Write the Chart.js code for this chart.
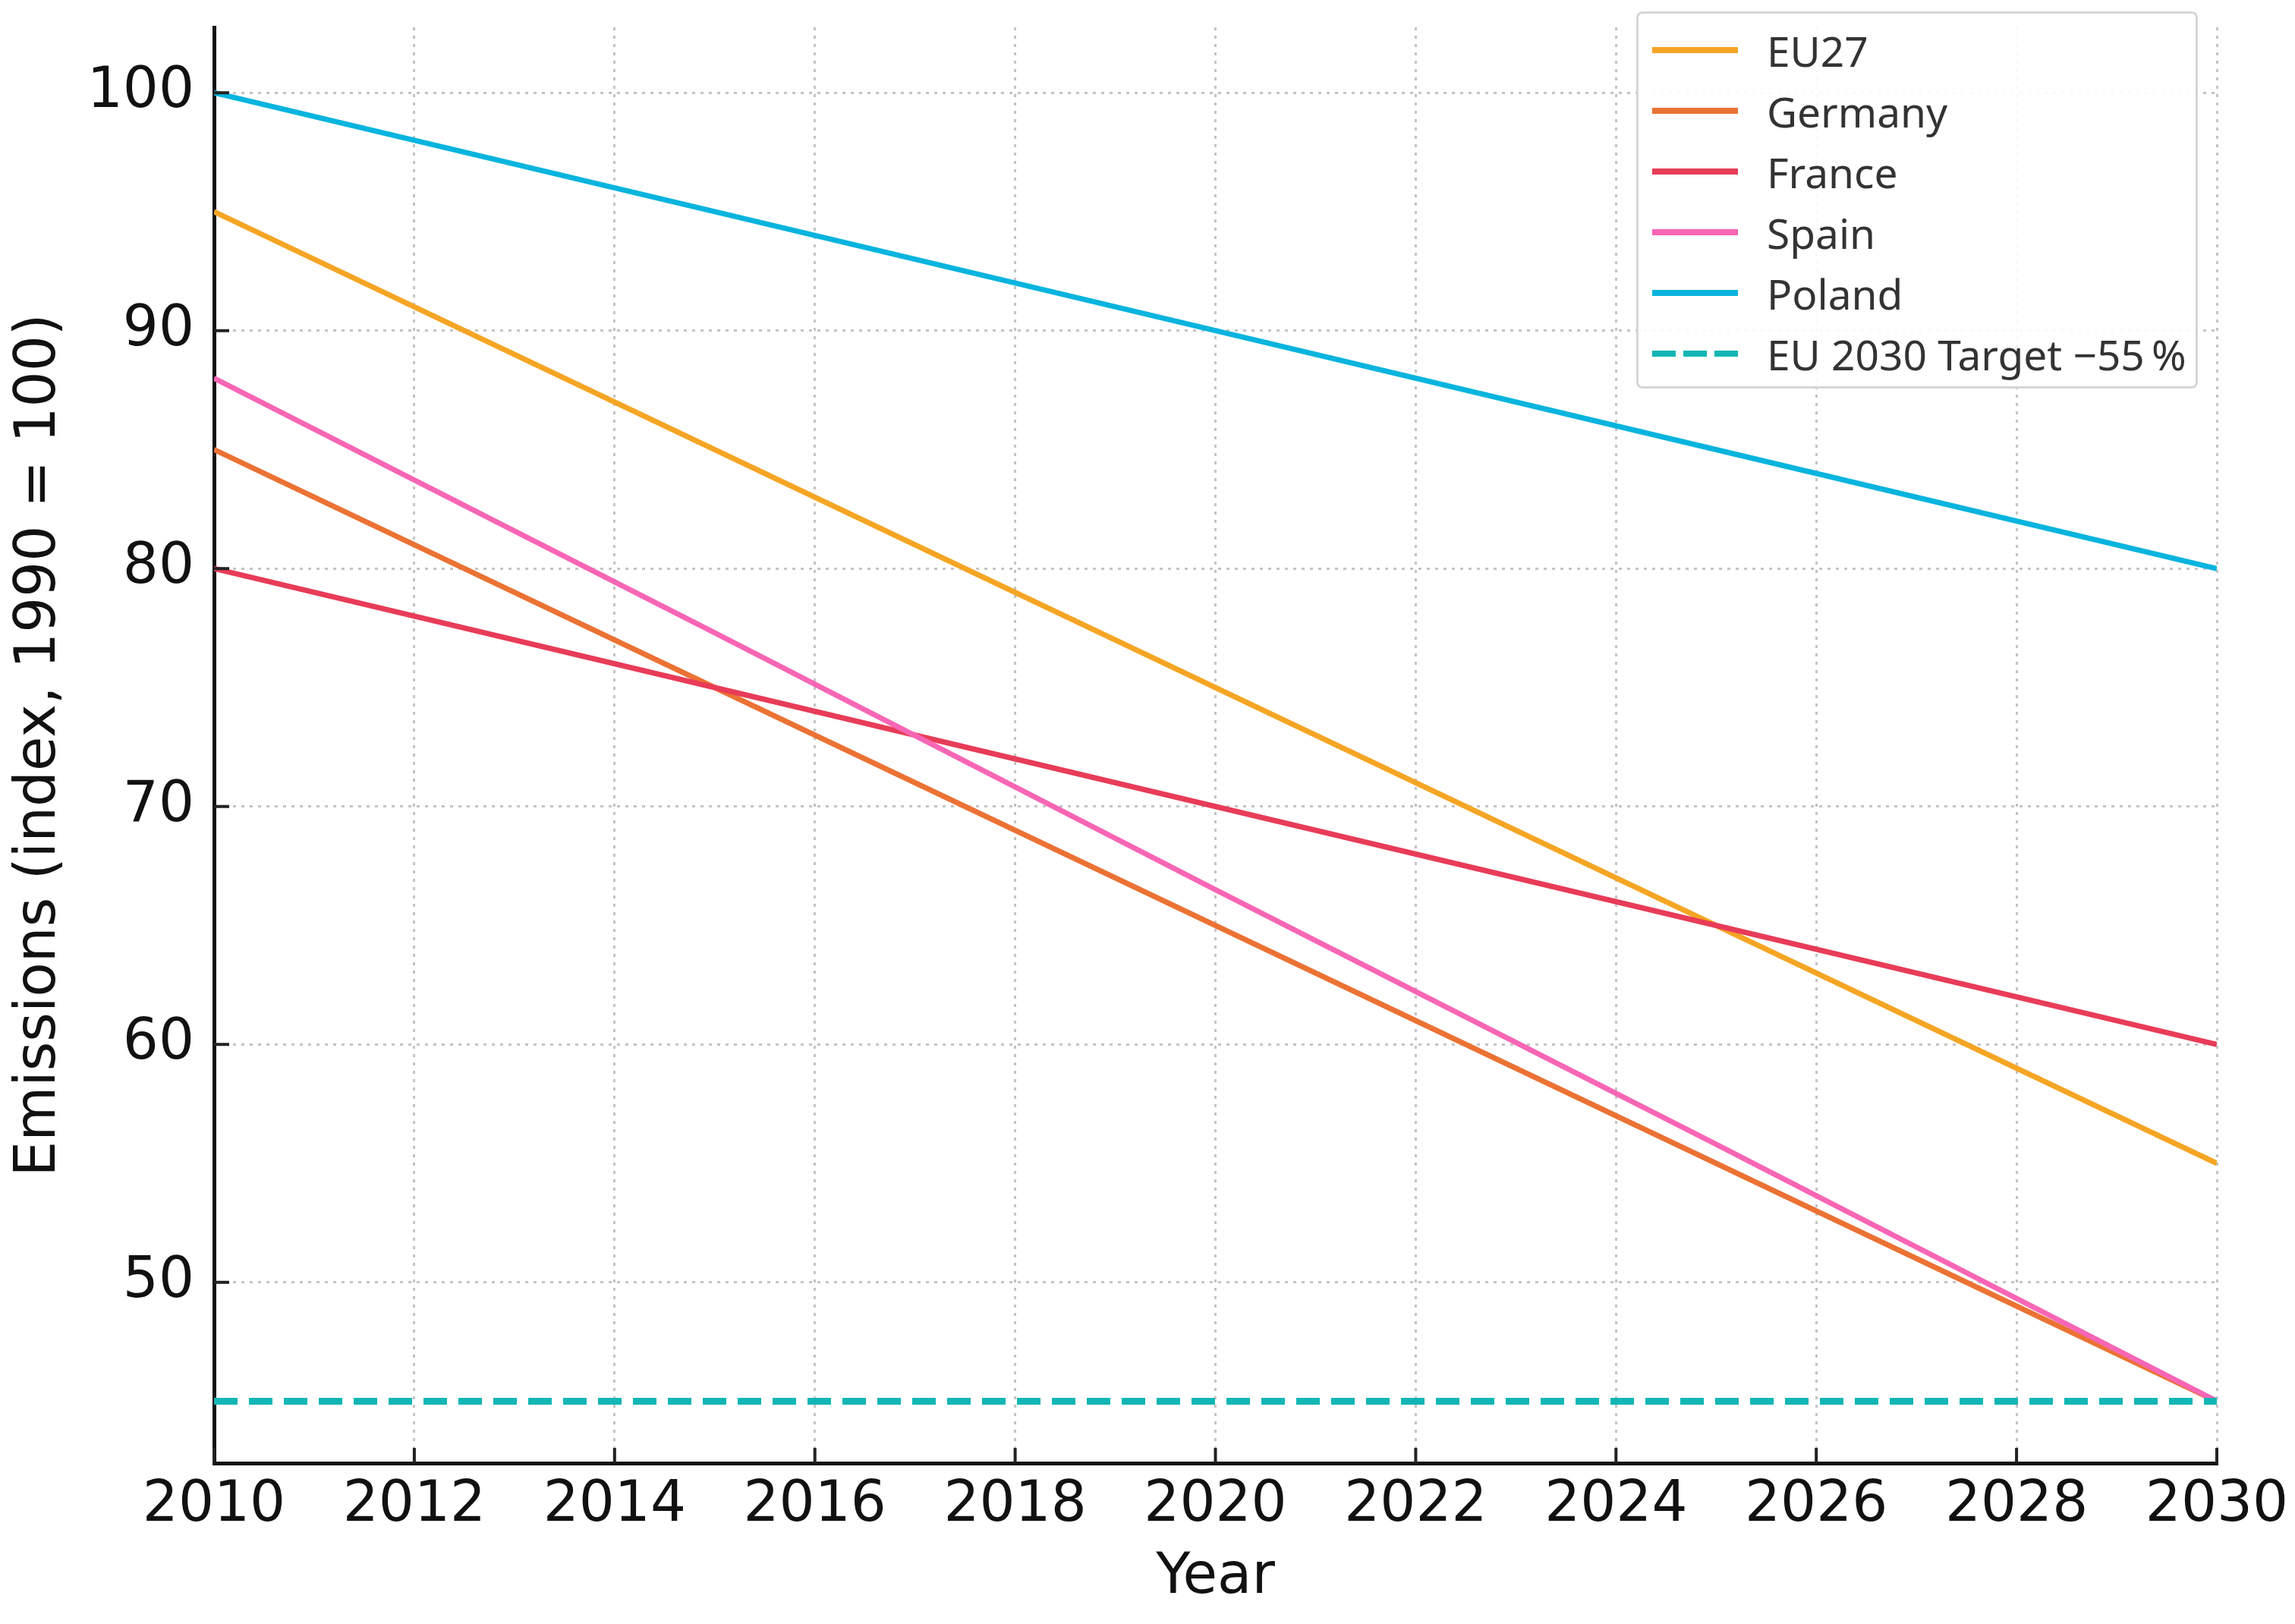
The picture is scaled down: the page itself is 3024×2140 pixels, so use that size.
<!DOCTYPE html>
<html>
<head>
<meta charset="utf-8">
<script src="https://cdn.jsdelivr.net/npm/chart.js@4.4.1/dist/chart.umd.min.js"></script>
<style>
    html, body { margin: 0; padding: 0; background: #ffffff; }
    #wrap { position: relative; width: 3024px; height: 2140px; }
    #chart { display: block; }
    #legend {
        position: absolute; left: 2156px; top: 15px; width: 740px; height: 497px;
        border: 3px solid #d6d6d6; border-radius: 8px; background: rgba(255,255,255,0.9);
        padding-top: 8px; box-sizing: border-box;
        font-family: "Noto Sans", sans-serif; font-size: 55px; color: #333333;
    }
    .row { display: flex; align-items: center; height: 80px; }
    .swatch { width: 113px; height: 8px; margin-left: 18px; margin-right: 38px; }
</style>
</head>
<body>
<div id="wrap">
    <canvas id="chart" width="3024" height="2140"></canvas>
    <div id="legend"></div>
</div>
<script>
// Years
const years = [2010, 2015, 2020, 2025, 2030];

// Emission index values (1990 = 100)
const eu27 = [95, 85, 75, 65, 55];
const germany = [85, 75, 65, 55, 45];
const france = [80, 75, 70, 65, 60];
const spain = [88, 77.3, 66.5, 55.8, 45];
const poland = [100, 95, 90, 85, 80];
const target = [45, 45, 45, 45, 45];

const seriesNames = ['EU27', 'Germany', 'France', 'Spain', 'Poland', 'EU 2030 Target \u221255\u202f%'];
const seriesValues = [eu27, germany, france, spain, poland, target];
const seriesColors = ['#f5a524', '#eb7234', '#e83c58', '#f766b5', '#08b4de', '#12b6b4'];

const yTicks = [50, 60, 70, 80, 90, 100];
const xTicks = [2010, 2012, 2014, 2016, 2018, 2020, 2022, 2024, 2026, 2028, 2030];

const tickFont = { family: 'DejaVu Sans', size: 74 };

const datasets = seriesNames.map((name, i) => {
    const isTarget = i === seriesNames.length - 1;
    return {
        label: name,
        data: years.map((yr, j) => ({ x: yr, y: seriesValues[i][j] })),
        borderColor: seriesColors[i],
        backgroundColor: seriesColors[i],
        borderWidth: isTarget ? 9 : 7,
        borderDash: isTarget ? [31, 15] : [],
        pointRadius: 0,
        tension: 0,
        fill: false,
        // later series sit on top, as in the original
        order: seriesNames.length - i
    };
});

// Inward tick marks, like the original axes
const inwardTicks = {
    id: 'inwardTicks',
    afterDraw(chart) {
        const { ctx, chartArea } = chart;
        const xs = chart.scales.x;
        const ys = chart.scales.y;
        ctx.save();
        ctx.strokeStyle = '#222222';
        ctx.lineWidth = 4;
        ctx.beginPath();
        xs.ticks.forEach((t, i) => {
            const px = xs.getPixelForTick(i);
            ctx.moveTo(px, chartArea.bottom);
            ctx.lineTo(px, chartArea.bottom - 20);
        });
        ys.ticks.forEach((t, i) => {
            const py = ys.getPixelForTick(i);
            ctx.moveTo(chartArea.left, py);
            ctx.lineTo(chartArea.left + 20, py);
        });
        ctx.stroke();
        ctx.restore();
    }
};

new Chart(document.getElementById('chart'), {
    type: 'line',
    data: { datasets: datasets },
    plugins: [inwardTicks],
    options: {
        responsive: false,
        animation: false,
        devicePixelRatio: 1,
        layout: { padding: { top: 36, right: 103, left: 0, bottom: 0 } },
        plugins: {
            legend: { display: false },
            tooltip: { enabled: false }
        },
        scales: {
            x: {
                type: 'linear',
                min: 2010,
                max: 2030,
                afterBuildTicks: axis => { axis.ticks = xTicks.map(v => ({ value: v })); },
                afterFit: axis => {
                    axis.height = 212;
                    axis.paddingLeft = 0;
                    axis.paddingRight = 0;
                },
                ticks: {
                    font: tickFont,
                    color: '#111111',
                    padding: 12,
                    maxRotation: 0,
                    callback: v => String(v)
                },
                grid: { color: '#c4c4c4', lineWidth: 3, drawTicks: false },
                border: { display: true, color: '#111111', width: 5, dash: [4, 7] },
                title: {
                    display: true,
                    text: 'Year',
                    font: tickFont,
                    color: '#111111',
                    padding: { top: 0, bottom: 16 }
                }
            },
            y: {
                type: 'linear',
                min: 42.4,
                max: 102.75,
                afterBuildTicks: axis => { axis.ticks = yTicks.map(v => ({ value: v })); },
                afterFit: axis => {
                    axis.width = 282;
                    axis.paddingTop = 0;
                    axis.paddingBottom = 0;
                },
                ticks: {
                    font: tickFont,
                    color: '#111111',
                    padding: 26
                },
                grid: { color: '#c4c4c4', lineWidth: 3, drawTicks: false },
                border: { display: true, color: '#111111', width: 5, dash: [4, 7] },
                title: {
                    display: true,
                    text: 'Emissions (index, 1990 = 100)',
                    font: tickFont,
                    color: '#111111',
                    padding: { top: 8, bottom: 0 }
                }
            }
        }
    }
});

// HTML legend built from the datasets
const legendBox = document.getElementById('legend');
datasets.forEach((ds, i) => {
    const row = document.createElement('div');
    row.className = 'row';
    const sw = document.createElement('div');
    sw.className = 'swatch';
    if (ds.borderDash.length) {
        sw.style.background = `repeating-linear-gradient(to right, ${ds.borderColor} 0 31px, transparent 31px 41px)`;
    } else {
        sw.style.background = ds.borderColor;
    }
    const label = document.createElement('span');
    label.textContent = ds.label;
    row.appendChild(sw);
    row.appendChild(label);
    legendBox.appendChild(row);
});
</script>
</body>
</html>
